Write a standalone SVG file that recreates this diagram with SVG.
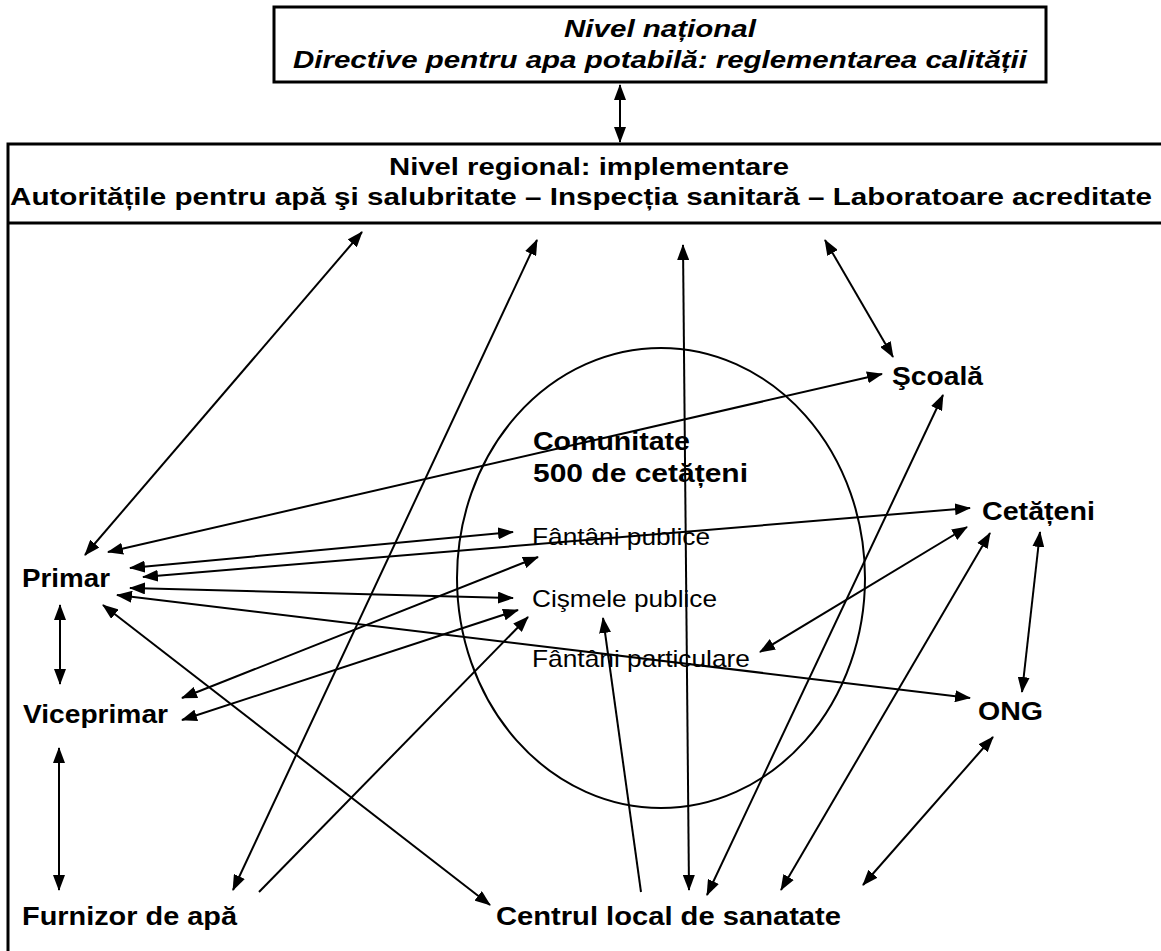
<svg xmlns="http://www.w3.org/2000/svg" width="1161" height="951" viewBox="0 0 1161 951">
<style>
.bg{fill:#fff}
.box{fill:none;stroke:#000;stroke-width:3}
.hdr{font-family:"Liberation Sans",Arial,sans-serif;font-weight:bold;font-size:24px;fill:#000}
.hdri{font-family:"Liberation Sans",Arial,sans-serif;font-weight:bold;font-style:italic;font-size:24px;fill:#000}
.lbl{font-family:"Liberation Sans",Arial,sans-serif;font-weight:bold;font-size:26px;fill:#000}
.sub{font-family:"Liberation Sans",Arial,sans-serif;font-size:24px;fill:#000}
.ell{fill:none;stroke:#000;stroke-width:2}
.c line{stroke:#000;stroke-width:2}
.bi{marker-start:url(#ah);marker-end:url(#ah)}
.uni{marker-end:url(#ah)}
</style>
<defs>
<marker id="ah" viewBox="0 0 16 12" refX="15" refY="6" markerWidth="16" markerHeight="12" markerUnits="userSpaceOnUse" orient="auto-start-reverse"><path d="M0,0 L16,6 L0,12 z" fill="#000"/></marker>
</defs>
<rect class="bg" x="0" y="0" width="1161" height="951"/>
<g id="national">
<rect class="box" x="274" y="7" width="772" height="75"/>
<text class="hdri" x="564" y="37" textLength="192" lengthAdjust="spacingAndGlyphs">Nivel național</text>
<text class="hdri" x="293" y="68" textLength="734" lengthAdjust="spacingAndGlyphs">Directive pentru apa potabilă: reglementarea calității</text>
</g>
<g id="regional">
<path class="box" d="M1161,144 H8 V951 M8,223 H1161"/>
<text class="hdr" x="389" y="175" textLength="400" lengthAdjust="spacingAndGlyphs">Nivel regional: implementare</text>
<text class="hdr" x="10" y="205" textLength="1142" lengthAdjust="spacingAndGlyphs">Autoritățile pentru apă şi salubritate – Inspecția sanitară – Laboratoare acreditate</text>
</g>
<g id="comunitate">
<ellipse class="ell" cx="661" cy="578" rx="204" ry="230"/>
<text class="lbl" x="533" y="450" textLength="157" lengthAdjust="spacingAndGlyphs">Comunitate</text>
<text class="lbl" x="533" y="482" textLength="215" lengthAdjust="spacingAndGlyphs">500 de cetățeni</text>
</g>
<g id="fantani-publice"><text class="sub" x="532" y="545" textLength="178" lengthAdjust="spacingAndGlyphs">Fântâni publice</text></g>
<g id="cismele-publice"><text class="sub" x="532" y="607" textLength="185" lengthAdjust="spacingAndGlyphs">Cişmele publice</text></g>
<g id="fantani-particulare"><text class="sub" x="532" y="667" textLength="218" lengthAdjust="spacingAndGlyphs">Fântâni particulare</text></g>
<g id="primar"><text class="lbl" x="22" y="587" textLength="88" lengthAdjust="spacingAndGlyphs">Primar</text></g>
<g id="viceprimar"><text class="lbl" x="23" y="723" textLength="145" lengthAdjust="spacingAndGlyphs">Viceprimar</text></g>
<g id="furnizor"><text class="lbl" x="22" y="925" textLength="215" lengthAdjust="spacingAndGlyphs">Furnizor de apă</text></g>
<g id="centrul"><text class="lbl" x="496" y="925" textLength="345" lengthAdjust="spacingAndGlyphs">Centrul local de sanatate</text></g>
<g id="scoala"><text class="lbl" x="892" y="385" textLength="91" lengthAdjust="spacingAndGlyphs">Şcoală</text></g>
<g id="cetateni"><text class="lbl" x="982" y="520" textLength="113" lengthAdjust="spacingAndGlyphs">Cetățeni</text></g>
<g id="ong"><text class="lbl" x="978" y="720" textLength="65" lengthAdjust="spacingAndGlyphs">ONG</text></g>
<g id="connectors" class="c">
<line class="bi" x1="620" y1="85" x2="620" y2="142"/>
<line class="bi" x1="85" y1="555" x2="362" y2="232"/>
<line class="bi" x1="108" y1="552" x2="882" y2="374"/>
<line class="bi" x1="130" y1="568" x2="513" y2="532"/>
<line class="bi" x1="143" y1="577" x2="970" y2="508"/>
<line class="bi" x1="130" y1="588" x2="513" y2="598"/>
<line class="bi" x1="117" y1="595" x2="970" y2="698"/>
<line class="bi" x1="103" y1="605" x2="490" y2="905"/>
<line class="bi" x1="60" y1="605" x2="60" y2="684"/>
<line class="bi" x1="182" y1="698" x2="538" y2="557"/>
<line class="bi" x1="182" y1="720" x2="518" y2="610"/>
<line class="bi" x1="59" y1="748" x2="59" y2="890"/>
<line class="bi" x1="233" y1="890" x2="537" y2="240"/>
<line class="uni" x1="259" y1="892" x2="528" y2="617"/>
<line class="uni" x1="641" y1="892" x2="603" y2="618"/>
<line class="bi" x1="689" y1="890" x2="683" y2="245"/>
<line class="bi" x1="707" y1="895" x2="943" y2="395"/>
<line class="bi" x1="781" y1="890" x2="990" y2="533"/>
<line class="bi" x1="863" y1="885" x2="993" y2="737"/>
<line class="bi" x1="967" y1="527" x2="760" y2="652"/>
<line class="bi" x1="1040" y1="532" x2="1022" y2="692"/>
<line class="bi" x1="825" y1="240" x2="893" y2="357"/>
</g>
</svg>
